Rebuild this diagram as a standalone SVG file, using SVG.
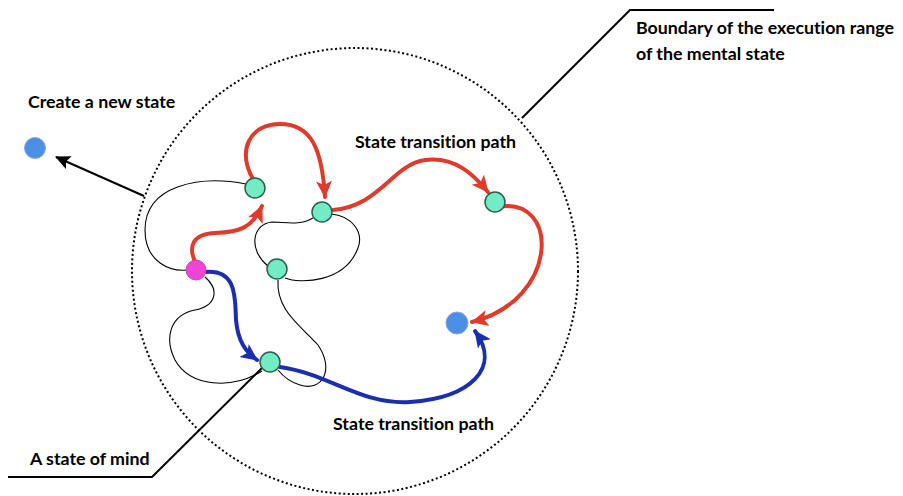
<svg xmlns="http://www.w3.org/2000/svg" width="903" height="496" viewBox="0 0 903 496">
<defs>
<style>
.lbl{font-family:Lato,"Open Sans","Liberation Sans",sans-serif;font-weight:bold;font-size:17.8px;fill:#000;font-variant-ligatures:none}
.loop{fill:none;stroke:#000;stroke-width:1.1}
.red{fill:none;stroke:#e03a2a;stroke-width:4;stroke-linecap:round}
.blue{fill:none;stroke:#1a2fb0;stroke-width:4;stroke-linecap:round}
.call{fill:none;stroke:#000;stroke-width:2}
.g{fill:#72ecc4;stroke:#2d5e4e;stroke-width:1.5}
.b{fill:#4d8fe6;stroke:#8aa8d8;stroke-width:1}
.m{fill:#ee45d6;stroke:#d040c0;stroke-width:1}
</style>
<marker id="ar" markerUnits="userSpaceOnUse" markerWidth="20" markerHeight="18" refX="16" refY="8" orient="auto"><path d="M0,0 L17,8 L0,16 L4,8 Z" fill="#e03a2a"/></marker>
<marker id="ab" markerUnits="userSpaceOnUse" markerWidth="20" markerHeight="18" refX="16" refY="8" orient="auto"><path d="M0,0 L17,8 L0,16 L4,8 Z" fill="#1a2fb0"/></marker>
<marker id="ak" markerUnits="userSpaceOnUse" markerWidth="18" markerHeight="16" refX="14" refY="7" orient="auto"><path d="M0,0 L15,7 L0,14 L3,7 Z" fill="#000"/></marker>
</defs>
<rect width="903" height="496" fill="#fff"/>
<circle id="boundary" cx="355" cy="271" r="223" fill="none" stroke="#000" stroke-width="2" stroke-dasharray="2 2.5"/>
<g id="connectors">
<path class="loop" d="M246,184 C200,175 145,185 145,230 C145,262 170,272 188,270"/>
<path class="loop" d="M313,218 C300,226 285,222 272,222 C252,224 248,250 268,266"/>
<path class="loop" d="M285,278 C300,284 345,283 358,248 C364,232 352,216 331,214"/>
<path class="loop" d="M205,277 C220,290 216,306 195,310 C170,315 164,338 175,360 C190,387 232,390 262,371"/>
<path class="loop" d="M278,280 C276,310 300,325 318,345 C335,370 322,392 300,385 C290,382 282,375 278,370"/>
<path class="red" marker-end="url(#ar)" d="M197,266 C186,245 194,234 215,233 C240,232 252,228 262,206"/>
<path class="red" marker-end="url(#ar)" d="M254,181 C236,150 250,124 280,124 C312,124 322,150 325,197"/>
<path class="red" marker-end="url(#ar)" d="M333,210 C380,206 392,165 425,160 C455,156 474,175 488,192"/>
<path class="red" marker-end="url(#ar)" d="M498,207 C560,195 560,300 472,322"/>
<path class="blue" marker-end="url(#ab)" d="M204,272 C238,268 235,300 236,320 C238,342 246,352 257,360"/>
<path class="blue" marker-end="url(#ab)" d="M280,367 C330,374 360,405 410,402 C470,398 502,368 475,331"/>
<path class="call" stroke-width="2.5" marker-end="url(#ak)" d="M144,196 L56,157"/>
<path class="call" d="M522,118 L630,10 L774,10"/>
<path class="call" d="M263,367 L152,477 L8,477"/>
</g>
<g id="n-new"><circle class="b" cx="35" cy="148" r="10.5"/></g>
<g id="n1"><circle class="g" cx="255" cy="188" r="10"/></g>
<g id="n2"><circle class="g" cx="322" cy="212" r="10"/></g>
<g id="n3"><circle class="g" cx="277" cy="269" r="10"/></g>
<g id="n-mind-start"><circle class="m" cx="196" cy="270" r="10"/></g>
<g id="n4"><circle class="g" cx="270" cy="362" r="10"/></g>
<g id="n5"><circle class="g" cx="495" cy="202" r="10"/></g>
<g id="n-target"><circle class="b" cx="457" cy="323" r="11"/></g>
<g id="labels">
<text class="lbl" x="28" y="108">Create a new state</text>
<text class="lbl" x="636" y="34">Boundary of the execution range</text>
<text class="lbl" x="636" y="60">of the mental state</text>
<text class="lbl" x="355" y="148">State transition path</text>
<text class="lbl" x="333" y="430">State transition path</text>
<text class="lbl" x="30" y="465">A state of mind</text>
</g>
</svg>
